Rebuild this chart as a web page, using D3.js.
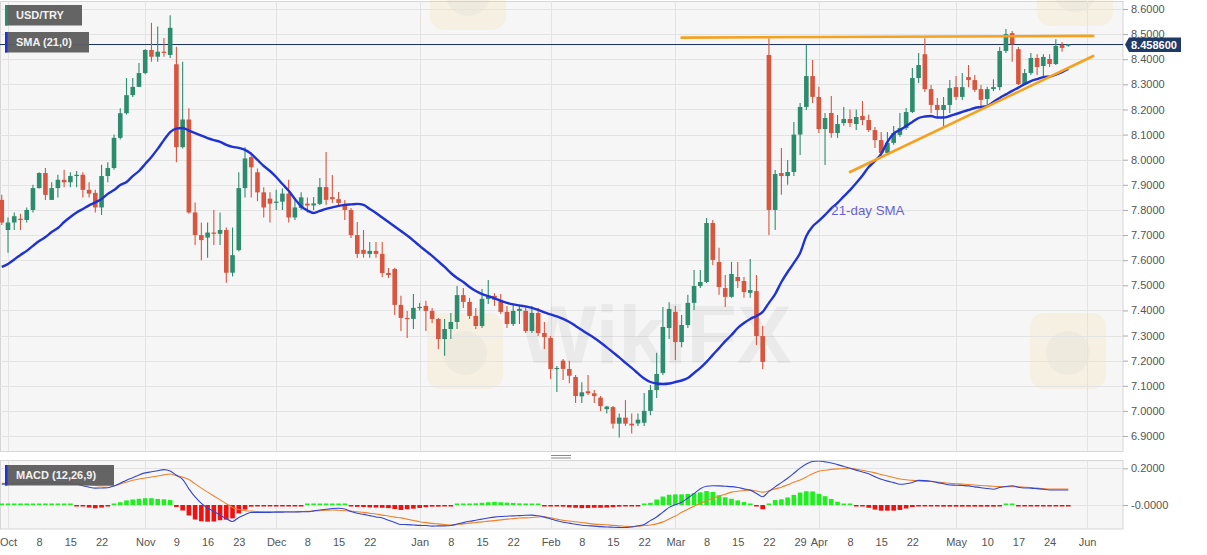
<!DOCTYPE html>
<html><head><meta charset="utf-8">
<script src="https://cdn.jsdelivr.net/npm/d3@7"></script>
<style>
html,body{margin:0;padding:0;background:#fff;}
svg{display:block;font-family:"Liberation Sans",Arial,Helvetica,sans-serif;}
</style></head><body>
<svg id="chart" width="1207" height="555"></svg>
<script>
// ---------------- DATA ----------------
const symbol = "USD/TRY";
const smaLabel = "SMA (21,0)";
const macdLabel = "MACD (12,26,9)";
const smaNote = "21-day SMA";
const watermark = "WikiFX";
const startDate = "2020-09-30"; // first trading day shown (weekdays only)

const open = [7.84,7.72,7.75,7.765,7.76,7.80,7.887,7.947,7.84,7.887,7.92,7.91,7.935,7.94,7.88,7.868,7.81,7.935,7.967,8.087,8.185,8.257,8.29,8.345,8.437,8.41,8.43,8.417,8.38,8.05,8.16,7.79,7.70,7.69,7.71,7.705,7.72,7.55,7.64,7.887,8.01,7.95,7.87,7.845,7.83,7.833,7.865,7.77,7.808,7.825,7.818,7.824,7.891,7.851,7.843,7.824,7.80,7.70,7.641,7.625,7.637,7.625,7.549,7.565,7.422,7.37,7.366,7.41,7.418,7.398,7.366,7.286,7.326,7.354,7.461,7.434,7.378,7.338,7.446,7.458,7.442,7.394,7.346,7.398,7.398,7.318,7.39,7.31,7.29,7.167,7.20,7.167,7.135,7.058,7.078,7.07,7.053,7.007,7.015,6.949,6.973,6.949,6.95,6.953,7.0,7.083,7.151,7.33,7.394,7.274,7.342,7.43,7.497,7.513,7.748,7.593,7.489,7.454,7.533,7.517,7.47,7.477,7.298,8.417,7.80,7.947,7.935,7.951,8.10,8.21,8.333,8.25,8.122,8.186,8.106,8.146,8.162,8.142,8.174,8.158,8.118,8.078,8.027,8.067,8.099,8.126,8.19,8.325,8.42,8.281,8.218,8.198,8.218,8.289,8.25,8.329,8.317,8.281,8.242,8.281,8.289,8.433,8.504,8.44,8.301,8.345,8.405,8.373,8.401,8.381,8.457,8.455];
const high = [7.86,7.77,7.79,7.785,7.81,7.90,7.95,7.967,7.91,7.94,7.96,7.95,7.955,7.95,7.91,7.88,7.98,7.99,8.10,8.205,8.325,8.325,8.385,8.44,8.545,8.53,8.485,8.575,8.45,8.39,8.205,7.83,7.75,7.75,7.80,7.79,7.73,7.73,7.95,8.05,8.03,7.965,7.89,7.87,7.88,7.885,7.92,7.84,7.87,7.85,7.852,7.927,8.031,7.939,7.871,7.84,7.808,7.752,7.72,7.672,7.672,7.672,7.569,7.57,7.458,7.398,7.465,7.43,7.438,7.41,7.37,7.366,7.39,7.497,7.489,7.45,7.41,7.485,7.521,7.469,7.465,7.418,7.426,7.418,7.418,7.418,7.41,7.354,7.298,7.179,7.207,7.20,7.143,7.114,7.143,7.083,7.059,7.02,7.019,6.99,7.043,6.99,6.99,7.071,7.103,7.231,7.414,7.432,7.418,7.382,7.462,7.561,7.561,7.768,7.76,7.649,7.541,7.593,7.593,7.533,7.605,7.541,7.338,8.484,7.959,8.047,7.999,8.15,8.226,8.457,8.397,8.29,8.186,8.254,8.178,8.21,8.20,8.20,8.234,8.18,8.13,8.11,8.11,8.134,8.186,8.206,8.365,8.425,8.484,8.297,8.246,8.25,8.317,8.333,8.345,8.377,8.337,8.297,8.29,8.32,8.449,8.52,8.512,8.449,8.361,8.425,8.42,8.42,8.42,8.48,8.469,8.461];
const low = [7.74,7.63,7.72,7.72,7.75,7.79,7.885,7.84,7.84,7.85,7.89,7.89,7.89,7.85,7.85,7.79,7.78,7.91,7.96,8.08,8.18,8.25,8.29,8.34,8.39,8.39,8.41,8.405,7.99,8.045,7.785,7.66,7.60,7.61,7.66,7.66,7.51,7.535,7.635,7.85,7.85,7.835,7.77,7.75,7.80,7.80,7.75,7.76,7.80,7.79,7.80,7.82,7.82,7.828,7.82,7.76,7.688,7.609,7.61,7.61,7.61,7.533,7.529,7.382,7.318,7.29,7.326,7.40,7.318,7.35,7.246,7.219,7.286,7.326,7.41,7.366,7.326,7.33,7.426,7.418,7.386,7.33,7.338,7.346,7.31,7.31,7.298,7.246,7.127,7.075,7.123,7.11,7.031,7.031,7.063,7.031,6.999,6.99,6.93,6.894,6.94,6.91,6.94,6.94,6.983,7.051,7.143,7.286,7.203,7.253,7.33,7.402,7.489,7.509,7.581,7.462,7.414,7.45,7.489,7.45,7.45,7.262,7.167,7.70,7.72,7.86,7.90,7.935,8.019,8.198,8.226,8.106,7.979,8.087,8.087,8.135,8.13,8.118,8.138,8.11,8.047,8.015,8.019,8.06,8.091,8.118,8.186,8.305,8.27,8.186,8.17,8.13,8.186,8.238,8.238,8.289,8.27,8.21,8.22,8.273,8.277,8.425,8.39,8.297,8.297,8.337,8.337,8.325,8.369,8.377,8.43,8.45];
const close = [7.75,7.75,7.775,7.76,7.80,7.887,7.947,7.86,7.887,7.92,7.91,7.935,7.94,7.88,7.865,7.81,7.935,7.967,8.087,8.185,8.257,8.29,8.345,8.437,8.41,8.43,8.425,8.525,8.05,8.16,7.79,7.70,7.68,7.71,7.705,7.72,7.55,7.62,7.887,8.005,7.97,7.87,7.81,7.825,7.833,7.865,7.77,7.81,7.85,7.818,7.826,7.891,7.84,7.843,7.828,7.80,7.70,7.625,7.625,7.637,7.625,7.549,7.541,7.422,7.37,7.366,7.41,7.414,7.398,7.366,7.286,7.326,7.354,7.461,7.434,7.378,7.338,7.446,7.454,7.442,7.394,7.346,7.398,7.406,7.318,7.39,7.31,7.294,7.167,7.171,7.167,7.14,7.059,7.074,7.07,7.059,7.019,7.017,6.949,6.973,6.949,6.942,6.965,7.0,7.083,7.147,7.334,7.406,7.274,7.342,7.43,7.497,7.513,7.748,7.601,7.493,7.454,7.545,7.517,7.473,7.481,7.298,7.195,7.80,7.943,7.935,7.951,8.10,8.21,8.333,8.25,8.122,8.166,8.106,8.142,8.162,8.146,8.17,8.158,8.118,8.078,8.027,8.067,8.106,8.126,8.19,8.325,8.377,8.281,8.218,8.198,8.218,8.285,8.25,8.289,8.317,8.278,8.238,8.281,8.289,8.433,8.50,8.46,8.301,8.345,8.405,8.369,8.409,8.381,8.453,8.445,8.4586];
const sma21 = [7.573,7.585,7.603,7.621,7.637,7.657,7.676,7.692,7.712,7.728,7.752,7.772,7.790,7.804,7.818,7.830,7.844,7.864,7.879,7.899,7.911,7.935,7.955,7.983,8.011,8.043,8.078,8.110,8.124,8.126,8.116,8.106,8.096,8.086,8.078,8.071,8.059,8.051,8.047,8.039,8.023,7.999,7.975,7.955,7.931,7.903,7.876,7.844,7.814,7.798,7.788,7.796,7.804,7.810,7.816,7.820,7.822,7.824,7.820,7.804,7.788,7.770,7.752,7.734,7.716,7.698,7.678,7.657,7.637,7.617,7.595,7.573,7.549,7.529,7.513,7.493,7.477,7.465,7.457,7.448,7.438,7.430,7.424,7.420,7.416,7.410,7.402,7.392,7.384,7.376,7.366,7.354,7.338,7.322,7.306,7.290,7.272,7.253,7.233,7.213,7.191,7.171,7.149,7.129,7.115,7.109,7.107,7.109,7.115,7.121,7.131,7.151,7.171,7.195,7.223,7.250,7.278,7.302,7.330,7.350,7.366,7.378,7.394,7.430,7.465,7.513,7.553,7.589,7.629,7.696,7.734,7.756,7.780,7.806,7.828,7.854,7.879,7.907,7.937,7.971,7.995,8.023,8.071,8.104,8.118,8.134,8.150,8.166,8.172,8.174,8.168,8.168,8.174,8.182,8.190,8.198,8.206,8.210,8.214,8.230,8.246,8.260,8.274,8.287,8.301,8.313,8.321,8.329,8.331,8.339,8.349,8.361];
const macd = [0.113,0.115,0.117,0.118,0.121,0.122,0.124,0.126,0.126,0.123,0.119,0.116,0.113,0.105,0.097,0.092,0.093,0.094,0.104,0.119,0.135,0.149,0.164,0.175,0.181,0.187,0.193,0.185,0.162,0.140,0.088,0.044,0.009,-0.016,-0.035,-0.055,-0.074,-0.090,-0.068,-0.053,-0.040,-0.040,-0.040,-0.040,-0.039,-0.039,-0.038,-0.038,-0.037,-0.037,-0.032,-0.027,-0.023,-0.019,-0.018,-0.022,-0.035,-0.045,-0.051,-0.058,-0.065,-0.071,-0.083,-0.095,-0.106,-0.107,-0.109,-0.111,-0.112,-0.115,-0.114,-0.114,-0.112,-0.104,-0.096,-0.089,-0.083,-0.077,-0.071,-0.066,-0.063,-0.061,-0.059,-0.058,-0.056,-0.055,-0.059,-0.066,-0.076,-0.086,-0.094,-0.099,-0.105,-0.110,-0.113,-0.115,-0.118,-0.120,-0.121,-0.122,-0.123,-0.119,-0.113,-0.106,-0.085,-0.065,-0.039,-0.013,0.001,0.015,0.038,0.062,0.089,0.102,0.105,0.104,0.102,0.100,0.095,0.088,0.081,0.063,0.045,0.074,0.099,0.122,0.146,0.173,0.201,0.223,0.237,0.240,0.235,0.229,0.220,0.210,0.200,0.190,0.180,0.170,0.154,0.140,0.130,0.122,0.113,0.116,0.123,0.134,0.133,0.129,0.122,0.116,0.109,0.108,0.106,0.104,0.099,0.094,0.090,0.086,0.095,0.101,0.105,0.097,0.093,0.092,0.089,0.086,0.082,0.082,0.082,0.082];
const signal = [0.118,0.118,0.118,0.118,0.118,0.118,0.118,0.118,0.118,0.118,0.118,0.117,0.115,0.112,0.109,0.107,0.104,0.105,0.105,0.115,0.125,0.135,0.142,0.147,0.153,0.158,0.164,0.169,0.160,0.152,0.139,0.115,0.092,0.070,0.049,0.028,0.007,-0.013,-0.025,-0.031,-0.033,-0.036,-0.037,-0.037,-0.037,-0.037,-0.037,-0.037,-0.036,-0.035,-0.033,-0.031,-0.029,-0.027,-0.029,-0.031,-0.033,-0.037,-0.040,-0.045,-0.049,-0.055,-0.060,-0.066,-0.070,-0.077,-0.084,-0.091,-0.096,-0.100,-0.103,-0.106,-0.109,-0.106,-0.103,-0.099,-0.095,-0.092,-0.088,-0.085,-0.081,-0.077,-0.074,-0.071,-0.070,-0.068,-0.065,-0.064,-0.070,-0.077,-0.084,-0.087,-0.091,-0.095,-0.100,-0.104,-0.106,-0.108,-0.111,-0.113,-0.116,-0.118,-0.116,-0.112,-0.109,-0.103,-0.092,-0.076,-0.060,-0.040,-0.023,-0.007,0.010,0.022,0.036,0.049,0.059,0.070,0.075,0.079,0.081,0.076,0.070,0.077,0.088,0.097,0.110,0.124,0.136,0.153,0.170,0.184,0.189,0.194,0.197,0.198,0.200,0.195,0.189,0.183,0.175,0.166,0.158,0.150,0.142,0.138,0.134,0.131,0.129,0.128,0.125,0.122,0.118,0.116,0.114,0.112,0.109,0.106,0.104,0.102,0.100,0.100,0.100,0.099,0.097,0.095,0.092,0.089,0.087,0.087,0.087,0.087];
const histogram = [0.003,0.003,0.003,0.004,0.005,0.008,0.008,0.005,0.004,0.003,0.002,0.001,-0.003,-0.008,-0.014,-0.018,-0.014,-0.008,0.005,0.015,0.025,0.030,0.034,0.037,0.037,0.033,0.031,0.027,-0.011,-0.030,-0.057,-0.079,-0.089,-0.091,-0.090,-0.083,-0.080,-0.073,-0.046,-0.025,-0.009,-0.004,-0.004,-0.004,-0.003,-0.001,-0.001,-0.001,-0.001,0.001,0.003,0.007,0.007,0.007,0.006,0.003,-0.007,-0.010,-0.011,-0.013,-0.014,-0.015,-0.017,-0.022,-0.027,-0.023,-0.020,-0.016,-0.012,-0.009,-0.009,-0.006,-0.003,0.004,0.005,0.006,0.009,0.012,0.015,0.017,0.015,0.013,0.011,0.009,0.007,0.005,0.004,-0.002,-0.004,-0.007,-0.009,-0.013,-0.015,-0.017,-0.016,-0.015,-0.015,-0.014,-0.012,-0.009,-0.007,-0.004,-0.001,0.003,0.012,0.030,0.046,0.056,0.058,0.058,0.060,0.064,0.069,0.076,0.071,0.053,0.042,0.034,0.025,0.016,0.008,-0.004,-0.023,0.002,0.027,0.031,0.041,0.055,0.068,0.075,0.074,0.061,0.048,0.033,0.018,0.008,0.003,-0.004,-0.007,-0.015,-0.025,-0.031,-0.031,-0.031,-0.027,-0.019,-0.011,-0.004,-0.005,-0.005,-0.007,-0.009,-0.009,-0.009,-0.009,-0.009,-0.009,-0.009,-0.009,-0.009,-0.004,0.004,0.003,-0.004,-0.004,-0.004,-0.004,-0.004,-0.004,-0.003,-0.003,-0.003];

const resistanceLine = [["2021-03-02", 8.486], ["2021-06-02", 8.493]];
const supportLine    = [["2021-04-08", 7.951], ["2021-06-02", 8.413]];
const smaNoteAt = ["2021-04-05", 7.78];

const yTicks = [6.9,7.0,7.1,7.2,7.3,7.4,7.5,7.6,7.7,7.8,7.9,8.0,8.1,8.2,8.3,8.4,8.5,8.6];
const macdTicks = [0, 0.2];
const macdTickLabels = ["-0.0000", "0.2000"];
const xTickDates = ["2020-10-01","2020-10-08","2020-10-15","2020-10-22","2020-11-02","2020-11-09","2020-11-16","2020-11-23","2020-12-01","2020-12-08","2020-12-15","2020-12-22","2021-01-01","2021-01-08","2021-01-15","2021-01-22","2021-02-01","2021-02-08","2021-02-15","2021-02-22","2021-03-01","2021-03-08","2021-03-15","2021-03-22","2021-03-29","2021-04-01","2021-04-08","2021-04-15","2021-04-22","2021-05-03","2021-05-10","2021-05-17","2021-05-24","2021-06-01"];
const xTickLabels = ["Oct","8","15","22","Nov","9","16","23","Dec","8","15","22","Jan","8","15","22","Feb","8","15","22","Mar","8","15","22","29","Apr","8","15","22","May","10","17","24","Jun"];

// ---------------- CHART ----------------
function tradingDays(startStr, count) {
  const out = [];
  const d = new Date(startStr + "T00:00:00Z");
  while (out.length < count) {
    const wd = d.getUTCDay();
    if (wd !== 0 && wd !== 6) out.push(d.toISOString().slice(0, 10));
    d.setUTCDate(d.getUTCDate() + 1);
  }
  return out;
}
const n = close.length;
const days = tradingDays(startDate, n + 15);
const dayIndex = new Map(days.map((d, i) => [d, i]));
const candles = days.slice(0, n).map((d, i) => ({date: d, i, o: open[i], h: high[i], l: low[i], c: close[i]}));

const W = 1207, H = 555;
const plotR = 1123, mainT = 1, mainB = 451, macdT = 460.5, macdB = 529;

const x = d3.scaleLinear().domain([-0.283, 179.77]).range([0, plotR]);
const y = d3.scaleLinear().domain([6.9, 8.6]).range([436, 9]);
const ym = d3.scaleLinear().domain([0, 0.2]).range([505, 468.3]);

const GREEN = "#2e8c6e", RED = "#d8553f";
const svg = d3.select("#chart");
svg.append("rect").attr("width", W).attr("height", H).attr("fill", "#fff");

const defs = svg.append("defs");
defs.append("clipPath").attr("id", "clipMain").append("rect")
  .attr("x", 0).attr("y", mainT).attr("width", plotR).attr("height", mainB - mainT);
defs.append("clipPath").attr("id", "clipMacd").append("rect")
  .attr("x", 0).attr("y", macdT).attr("width", plotR).attr("height", macdB - macdT);

// panel backgrounds
svg.append("rect").attr("x", 0.5).attr("y", mainT + 0.5).attr("width", plotR - 0.5).attr("height", mainB - mainT)
  .attr("fill", "#f6f6f6").attr("stroke", "#d6d6d6");
svg.append("rect").attr("x", 0.5).attr("y", macdT).attr("width", plotR - 0.5).attr("height", macdB - macdT)
  .attr("fill", "#f6f6f6").attr("stroke", "#d6d6d6");

// separator handle
svg.append("line").attr("x1", 551).attr("x2", 571).attr("y1", 455.5).attr("y2", 455.5).attr("stroke", "#888");
svg.append("line").attr("x1", 551).attr("x2", 571).attr("y1", 458).attr("y2", 458).attr("stroke", "#888");

const allTicks = xTickDates.map((d, k) => ({k: dayIndex.get(d), label: xTickLabels[k]}));
const monthTicks = allTicks.filter(t => isNaN(+t.label));

// watermark logos (behind the data)
const wm = svg.append("g").attr("pointer-events", "none");
[[-176, 313], [427, 313], [1030, 313], [430, -46], [1037, -50]].forEach(([lx, ly]) => {
  wm.append("rect").attr("x", lx).attr("y", ly).attr("width", 76).attr("height", 76).attr("rx", 14)
    .attr("fill", "#f2cf6a").attr("opacity", 0.14);
  wm.append("circle").attr("cx", lx + 38).attr("cy", ly + 40).attr("r", 22).attr("fill", "#999").attr("opacity", 0.07);
});

// grids main
const gMain = svg.append("g").attr("clip-path", "url(#clipMain)");
gMain.selectAll("line.hg").data(yTicks).join("line")
  .attr("x1", 0).attr("x2", plotR).attr("y1", d => Math.round(y(d)) + 0.5).attr("y2", d => Math.round(y(d)) + 0.5)
  .attr("stroke", "#e3e3e3");
gMain.selectAll("line.vg").data(monthTicks).join("line")
  .attr("x1", d => Math.round(x(d.k)) + 0.5).attr("x2", d => Math.round(x(d.k)) + 0.5)
  .attr("y1", mainT).attr("y2", mainB).attr("stroke", "#e3e3e3");

// centre watermark text (fully inside the plot)
gMain.append("text").attr("x", 519).attr("y", 363).attr("font-size", 82).attr("font-weight", "bold")
  .attr("fill", "#777").attr("opacity", 0.09).text(watermark);

// grids macd
const gM = svg.append("g").attr("clip-path", "url(#clipMacd)");
gM.selectAll("line.hg").data(macdTicks).join("line")
  .attr("x1", 0).attr("x2", plotR).attr("y1", d => Math.round(ym(d)) + 0.5).attr("y2", d => Math.round(ym(d)) + 0.5)
  .attr("stroke", "#e3e3e3");
gM.selectAll("line.vg").data(monthTicks).join("line")
  .attr("x1", d => Math.round(x(d.k)) + 0.5).attr("x2", d => Math.round(x(d.k)) + 0.5)
  .attr("y1", macdT).attr("y2", macdB).attr("stroke", "#e3e3e3");

// price line
const last = close[n - 1];
gMain.append("line").attr("x1", 0).attr("x2", plotR).attr("y1", y(last)).attr("y2", y(last))
  .attr("stroke", "#1c3160").attr("stroke-width", 1);

// candles
const bw = 4.6;
const cg = gMain.append("g");
cg.selectAll("line.wick").data(candles).join("line")
  .attr("x1", d => x(d.i)).attr("x2", d => x(d.i))
  .attr("y1", d => y(d.h)).attr("y2", d => y(d.l))
  .attr("stroke", d => d.c >= d.o ? GREEN : RED).attr("stroke-width", 1.1);
cg.selectAll("rect.body").data(candles).join("rect")
  .attr("x", d => x(d.i) - bw / 2).attr("width", bw)
  .attr("y", d => y(Math.max(d.o, d.c)))
  .attr("height", d => Math.max(1.2, Math.abs(y(d.o) - y(d.c))))
  .attr("fill", d => d.c >= d.o ? GREEN : RED);

// SMA
gMain.append("path").datum(sma21)
  .attr("d", d3.line().x((d, i) => x(i)).y(d => y(d)).curve(d3.curveMonotoneX))
  .attr("fill", "none").attr("stroke", "#1e33d2").attr("stroke-width", 2.4).attr("stroke-linejoin", "round");

// trend lines
const trend = d3.line().x(p => x(dayIndex.get(p[0]))).y(p => y(p[1]));
[resistanceLine, supportLine].forEach(l => {
  gMain.append("path").attr("d", trend(l)).attr("stroke", "#f6a11d").attr("stroke-width", 2.6)
    .attr("fill", "none").attr("stroke-linecap", "round");
});

// annotation
svg.append("text").attr("x", x(dayIndex.get(smaNoteAt[0]))).attr("y", y(smaNoteAt[1]))
  .attr("font-size", 13.3).attr("fill", "#6a5fd4").text(smaNote);

// MACD histogram
const hb = 4.6;
gM.selectAll("rect.hist").data(histogram).join("rect")
  .attr("x", (d, i) => x(i) - hb / 2).attr("width", hb)
  .attr("y", d => d >= 0 ? Math.min(ym(d), ym(0) - 1.5) : ym(0))
  .attr("height", d => Math.max(1.5, Math.abs(ym(d) - ym(0))))
  .attr("fill", d => d >= 0 ? "#1fee1f" : "#f01010");
gM.append("path").datum(signal)
  .attr("d", d3.line().x((d, i) => x(i)).y(d => ym(d)).curve(d3.curveMonotoneX))
  .attr("fill", "none").attr("stroke", "#f0822c").attr("stroke-width", 1.1);
gM.append("path").datum(macd)
  .attr("d", d3.line().x((d, i) => x(i)).y(d => ym(d)).curve(d3.curveMonotoneX))
  .attr("fill", "none").attr("stroke", "#3446cf").attr("stroke-width", 1.1);

// axes
const axR = svg.append("g").attr("transform", `translate(${plotR},0)`)
  .call(d3.axisRight(y).tickValues(yTicks).tickFormat(d3.format(".4f")).tickSize(5).tickPadding(3));
const axM = svg.append("g").attr("transform", `translate(${plotR},0)`)
  .call(d3.axisRight(ym).tickValues(macdTicks).tickFormat((d, i) => macdTickLabels[i]).tickSize(5).tickPadding(3));
const axB = svg.append("g").attr("transform", `translate(0,${macdB})`)
  .call(d3.axisBottom(x).tickValues(allTicks.map(t => t.k)).tickFormat((d, i) => allTicks[i].label).tickSize(0).tickPadding(9.2));
[axR, axM, axB].forEach(a => {
  a.select(".domain").remove();
  a.selectAll(".tick line").attr("stroke", "#aaa");
  a.selectAll(".tick text").attr("fill", "#555").attr("font-size", 11)
    .attr("font-family", "'Liberation Sans',Arial,sans-serif");
});

// price tag
const py = y(last);
svg.append("path")
  .attr("d", `M${plotR + 2},${py} L${plotR + 6},${py - 7} H${plotR + 58} V${py + 7.5} H${plotR + 6} Z`)
  .attr("fill", "#1f3a66");
svg.append("text").attr("x", plotR + 8).attr("y", py + 4).attr("font-size", 11).attr("font-weight", "bold")
  .attr("fill", "#fff").text(d3.format(".6f")(last));

// legend boxes
function tag(x0, y0, w, h, accent, label) {
  svg.append("rect").attr("x", x0).attr("y", y0).attr("width", w).attr("height", h).attr("fill", "#5e5e5e").attr("opacity", 0.96);
  svg.append("rect").attr("x", x0).attr("y", y0).attr("width", 2.5).attr("height", h).attr("fill", accent);
  svg.append("text").attr("x", x0 + 11).attr("y", y0 + h / 2 + 4).attr("font-size", 11).attr("font-weight", "bold")
    .attr("fill", "#f2f2f2").text(label);
}
tag(5, 5, 77, 20.5, GREEN, symbol);
tag(5, 32, 84, 20.5, "#1e33d2", smaLabel);
tag(5, 465, 109, 20.5, "#1e33d2", macdLabel);
</script>
</body></html>
